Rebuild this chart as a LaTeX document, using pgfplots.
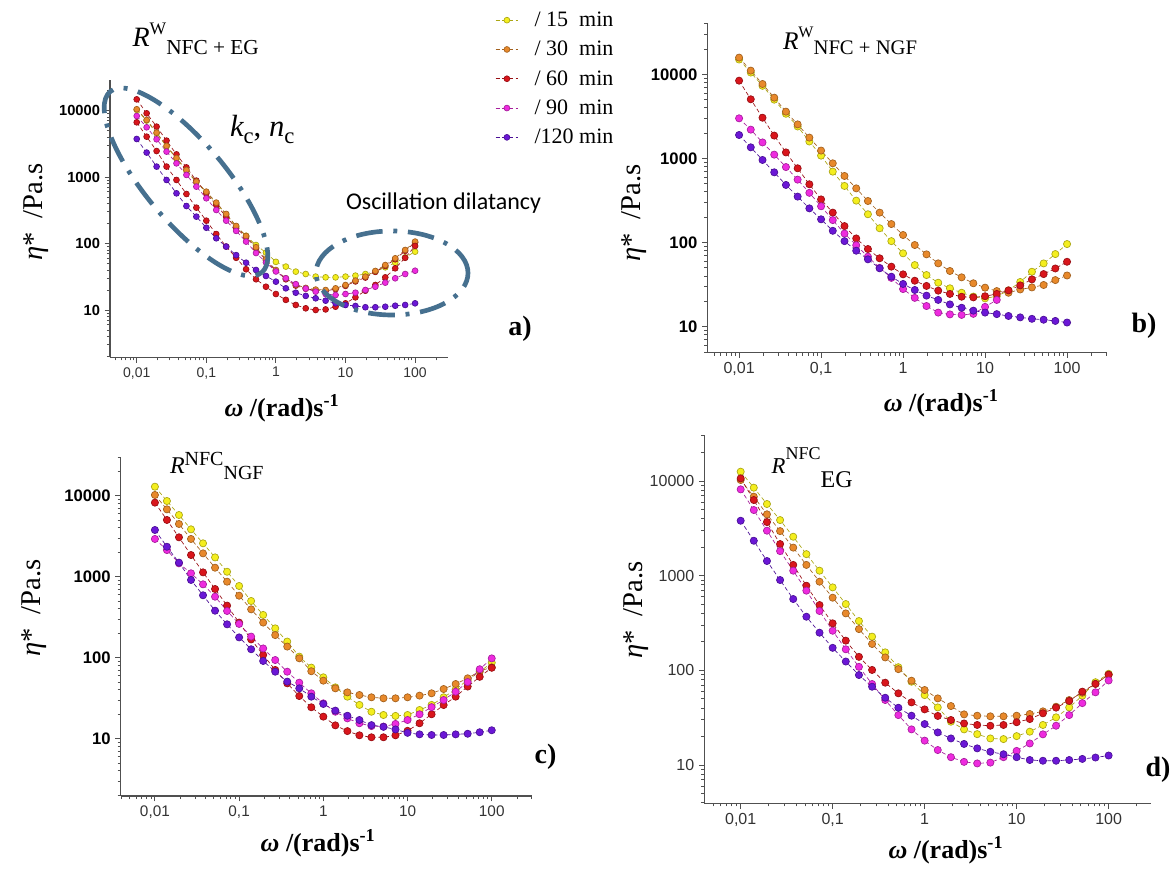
\documentclass[border=0pt]{standalone}
\usepackage{pgfplots}
\pgfplotsset{compat=1.18}
\usepackage{pgfplotstable}
\usepackage{fontspec}
\setmainfont{Liberation Serif}
\newfontfamily\arial{Liberation Sans}
\newfontfamily\calibri{Carlito}

\definecolor{c15}{HTML}{F4EE1E}
\definecolor{c30}{HTML}{E8892B}
\definecolor{c60}{HTML}{D9161C}
\definecolor{c90}{HTML}{EE2BDF}
\definecolor{c120}{HTML}{6B17D6}
\definecolor{axgray}{HTML}{505050}
\definecolor{ringblue}{HTML}{46708F}

% complex viscosity (Pa.s) against angular frequency (rad/s), 7 points per decade
\pgfplotstableread{
w       y15    y30    y60    y60b   y90    y120
0.01    10290  10500  6680   14800  8320   3750
0.01389 7100   7240   4060   9120   5620   2340
0.01931 4580   4670   2470   5750   3710   1440
0.02683 2890   2950   1440   3540   2420   906
0.03728 1900   1940   906    2200   1610   570
0.05179 1250   1280   557    1400   1080   367
0.07197 838    855    347    885    719    254
0.1     592    604    221    570    480    173
0.1389  405    413    139    381    320    120
0.1931  273    279    90     254    221    90
0.2683  180    184    61     170    155    67
0.3728  131    130    41     126    107    51.5
0.5179  95     88     29     85     72     40
0.7197  73     58     22.4   56     52     32.5
1       53     40     17.4   39     38     26.7
1.389   45     30     14.2   29     30     21.2
1.931   37.8   24     11.9   23.3   24.5   18.2
2.683   34.8   21.5   10.6   20.9   21     16.3
3.728   31.8   20.3   10     19.7   18.9   15
5.179   31     20     10.2   19.4   17.4   13.8
7.197   31     21.2   11.2   20.6   16.8   12.6
10      31.8   23.8   12.6   23.1   17.4   11.9
13.89   32.9   27.7   15.5   26.9   18.2   11.5
19.31   34.8   31.8   19.5   30.8   20     11
26.83   37.8   38.7   23.8   37.5   22.4   11
37.28   43.9   47.5   31     46     25.8   11.2
51.79   51.5   60     42.4   58     30     11.6
71.97   62     80     61     77.6   34.8   11.9
100     75.5   107    92     104    39     12.6
}\dataA

\pgfplotstableread{
w       y15    y30    y60    y90    y120
0.01    15000  15800  8410   3000   1900
0.01389 10500  11070  5050   2200   1356
0.01931 7300   7680   3050   1550   959
0.02683 5000   5280   1870   1110   684
0.03728 3400   3600   1180   790    484
0.05179 2400   2540   764    560    352
0.07197 1590   1770   493    390    255
0.1     1080   1240   326    270    189
0.1389  697    875    227    185    138
0.1931  471    619    157    128    104
0.2683  315    441    112    93     80
0.3728  217    312    83.8   68     63.2
0.5179  148    227    65     50     49.4
0.7197  104    166    51.7   38     39.3
1       74.5   123    41.9   28     32.2
1.389   54     93.5   35.2   22     27.3
1.931   41.1   72.4   30.5   17.6   23.4
2.683   33.3   56.6   26.8   14.7   20.8
3.728   28.6   45.9   24.5   14.0   18.4
5.179   25.3   38.6   22.7   13.8   16.8
7.197   22.8   32.8   22.3   14.2   15.5
10      21.7   29.1   23     17.2   14.7
13.89   23     26.5   24.5   20.8   14.1
19.31   27     25.3   27     nan    13.4
26.83   34     27.7   31     nan    12.9
37.28   45     29.3   36.5   nan    12.4
51.79   56.5   31.3   42.2   nan    12.1
71.97   73     35.8   49.2   nan    11.7
100     96     40.6   59.1   nan    11.2
}\dataB

\pgfplotstableread{
w       y15    y30    y60    y90    y120
0.01    12900  10200  8200   2920   3770
0.01389 8590   6780   5010   2130   2340
0.01931 5770   4470   3060   1460   1490
0.02683 3840   2920   1850   1100   910
0.03728 2580   1940   1130   804    589
0.05179 1730   1290   704    566    380
0.07197 1150   867    439    377    258
0.1     767    582    271    261    178
0.1389  501    395    168    182    127
0.1931  337    271    108    130    91
0.2683  230    190    70.5   93.5   67.1
0.3728  158    137    48.2   67.1   50.6
0.5179  103    98.2   33.6   49.1   41.8
0.7197  75.4   68     24.4   36.3   33
1       57.2   52     18.7   27.3   26.8
1.389   43     41.8   14.6   21.5   22.2
1.931   33     37.3   12.4   17.8   19.2
2.683   26.1   34.6   11.0   15.5   17
3.728   21.5   32.4   10.4   14.3   14.7
5.179   19.6   31.5   10.4   14.1   14.0
7.197   19.1   31.5   11.0   15.2   13.0
10      19.6   32.4   12.5   17     11.8
13.89   22.6   34     15.5   20     11.3
19.31   26.1   36.3   20     24.5   11.1
26.83   32.4   41     26     30     11.1
37.28   40.6   47.3   33     38     11.3
51.79   53     55.6   44     50     11.5
71.97   67.1   68.4   58     72     12.0
100     86.7   76     75     98     12.7
}\dataC

\pgfplotstableread{
w       y15    y30    y60    y90    y120
0.01    12560  10250  10670  8170   3810
0.01389 8510   6840   6300   4940   2340
0.01931 5720   4450   3690   2990   1430
0.02683 3870   2960   2160   1820   900
0.03728 2580   1980   1300   1130   567
0.05179 1690   1300   784    695    369
0.07197 1130   865    490    424    250
0.1     753    586    314    262    173
0.1389  502    400    206    167    124
0.1931  332    273    139    109    89.3
0.2683  227    190    101    71.8   67.2
0.3728  155    137    74.1   48.6   51.4
0.5179  108    103    57.2   33.7   40.3
0.7197  75.9   77.8   45.9   23.8   33.2
1       54.8   62     38.7   18.1   27.1
1.389   40.6   50.6   33     14.4   22.1
1.931   28.7   42     29.9   12.1   19.1
2.683   23.8   34.3   27.5   10.8   16.7
3.728   21.2   33.2   26.5   10.4   15
5.179   19.1   32.7   26     10.6   13.8
7.197   18.8   32.7   26.5   12.1   13
10      20.2   33.2   28.3   14.1   12.1
13.89   22.5   34.6   30.6   16.9   11.3
19.31   26.5   36.9   35.2   21.1   11.1
26.83   31.9   41.3   40.4   26     11.1
37.28   40.6   48.6   47.5   33.7   11.3
51.79   54     58     59.6   45.1   11.6
71.97   75     72     72     58.6   12.0
100     92     90     90     78.2   12.6
}\dataD

\tikzset{
  curve/.style={densely dashed, line width=0.5pt, draw=#1!70!black,
    mark=*, mark options={solid, draw=none, fill=#1}},
  lbl/.style={anchor=base west, inner sep=0pt, outer sep=0pt},
}
\pgfplotsset{
  legend image code/.code={\draw[mark repeat=2, mark phase=2, #1]
    plot coordinates {(0pt,0pt) (8.5pt,0pt) (17pt,0pt)};},
}

\begin{document}
\begin{tikzpicture}
\path[use as bounding box] (0pt,0pt) rectangle (881.25pt,652.5pt);

% a) R^W NFC+EG
\begin{axis}[
  scale only axis, xmode=log, ymode=log,
  axis lines*=left,
  axis line style={draw=axgray, line width=1.1pt},
  tick style={draw=axgray, line width=0.7pt},
  tick align=outside,
  major tick length=4pt, minor tick length=2.3pt,
  xtick={0.01,0.1,1,10,100},
  xticklabels={{0,01},{0,1},1,10,100},
  minor xtick={0.004,0.005,0.006,0.007,0.008,0.009,0.02,0.03,0.04,0.05,0.06,0.07,0.08,0.09,
    0.2,0.3,0.4,0.5,0.6,0.7,0.8,0.9,2,3,4,5,6,7,8,9,20,30,40,50,60,70,80,90,200},
  ytick={10,100,1000,10000},
  yticklabels={10,100,1000,10000},
  minor ytick={2,3,4,5,6,7,8,9,20,30,40,50,60,70,80,90,200,300,400,500,600,700,800,900,
    2000,3000,4000,5000,6000,7000,8000,9000,20000},
  xlabel={{\itshape ω} /(rad)s\textsuperscript{-1}},
  ylabel={{\itshape η}*\ \ /Pa.s},
  xlabel style={font=\bfseries\fontsize{19.5}{22}\selectfont, anchor=center,
    at={(axis description cs:0.509,-0.183)}},
  ylabel style={font=\fontsize{21.5}{24}\selectfont, anchor=center,
    at={(axis description cs:-0.219,0.524)}},
  at={(82.5pt,384.5pt)}, anchor=south west, width=253.5pt, height=208pt,
  xmin=0.00413, xmax=297, ymin=1.94, ymax=28970,
  xticklabel style={font=\arial\fontsize{10.5}{12}\selectfont, text=black!80},
  yticklabel style={font=\arial\bfseries\fontsize{11}{12}\selectfont},
  every axis plot/.append style={mark size=2.2pt},
  legend style={at={(axis description cs:1.139,1.256)}, anchor=north west,
    draw=none, fill=none, font=\fontsize{16.5}{16.5}\selectfont,
    inner sep=0pt, row sep=5.5pt, cells={anchor=west},
    /tikz/every odd column/.append style={column sep=10pt}},
]
\addplot[curve=c15] table[x=w,y=y15]{\dataA};
\addlegendentry{/ 15~~min}
\addplot[curve=c60, forget plot] table[x=w,y=y60b]{\dataA};
\addplot[curve=c30] table[x=w,y=y30]{\dataA};
\addlegendentry{/ 30~~min}
\addplot[curve=c60] table[x=w,y=y60]{\dataA};
\addlegendentry{/ 60~~min}
\addplot[curve=c90] table[x=w,y=y90]{\dataA};
\addlegendentry{/ 90~~min}
\addplot[curve=c120] table[x=w,y=y120]{\dataA};
\addlegendentry{/120 min}
\end{axis}

% b) R^W NFC+NGF
\begin{axis}[
  scale only axis, xmode=log, ymode=log,
  axis lines*=left,
  axis line style={draw=axgray, line width=1.1pt},
  tick style={draw=axgray, line width=0.7pt},
  tick align=outside,
  major tick length=4pt, minor tick length=2.3pt,
  unbounded coords=jump,
  xtick={0.01,0.1,1,10,100},
  xticklabels={{0,01},{0,1},1,10,100},
  minor xtick={0.004,0.005,0.006,0.007,0.008,0.009,0.02,0.03,0.04,0.05,0.06,0.07,0.08,0.09,
    0.2,0.3,0.4,0.5,0.6,0.7,0.8,0.9,2,3,4,5,6,7,8,9,20,30,40,50,60,70,80,90,200,300},
  ytick={10,100,1000,10000},
  yticklabels={10,100,1000,10000},
  minor ytick={5,6,7,8,9,20,30,40,50,60,70,80,90,200,300,400,500,600,700,800,900,
    2000,3000,4000,5000,6000,7000,8000,9000,20000,30000,40000},
  xlabel={{\itshape ω} /(rad)s\textsuperscript{-1}},
  ylabel={{\itshape η}*\ \ /Pa.s},
  xlabel style={font=\bfseries\fontsize{19.5}{22}\selectfont, anchor=center,
    at={(axis description cs:0.585,-0.153)}},
  ylabel style={font=\fontsize{21.5}{24}\selectfont, anchor=center,
    at={(axis description cs:-0.182,0.424)}},
  at={(530.5pt,388pt)}, anchor=south west, width=299.8pt, height=247pt,
  xmin=0.0041, xmax=307.6, ymin=4.91, ymax=40400,
  xticklabel style={font=\arial\fontsize{12}{14}\selectfont, text=black!80},
  yticklabel style={font=\arial\bfseries\fontsize{12.5}{14}\selectfont},
  every axis plot/.append style={mark size=2.7pt},
]
\addplot[curve=c15] table[x=w,y=y15]{\dataB};
\addplot[curve=c30] table[x=w,y=y30]{\dataB};
\addplot[curve=c60] table[x=w,y=y60]{\dataB};
\addplot[curve=c90] table[x=w,y=y90]{\dataB};
\addplot[curve=c120] table[x=w,y=y120]{\dataB};
\end{axis}

% c) R^NFC NGF
\begin{axis}[
  scale only axis, xmode=log, ymode=log,
  axis lines*=left,
  axis line style={draw=axgray, line width=1.1pt},
  tick style={draw=axgray, line width=0.7pt},
  tick align=outside,
  major tick length=4pt, minor tick length=2.3pt,
  xtick={0.01,0.1,1,10,100},
  xticklabels={{0,01},{0,1},1,10,100},
  minor xtick={0.004,0.005,0.006,0.007,0.008,0.009,0.02,0.03,0.04,0.05,0.06,0.07,0.08,0.09,
    0.2,0.3,0.4,0.5,0.6,0.7,0.8,0.9,2,3,4,5,6,7,8,9,20,30,40,50,60,70,80,90,200,300},
  ytick={10,100,1000,10000},
  yticklabels={10,100,1000,10000},
  minor ytick={2,3,4,5,6,7,8,9,20,30,40,50,60,70,80,90,200,300,400,500,600,700,800,900,
    2000,3000,4000,5000,6000,7000,8000,9000,20000,30000},
  xlabel={{\itshape ω} /(rad)s\textsuperscript{-1}},
  ylabel={{\itshape η}*\ \ /Pa.s},
  xlabel style={font=\bfseries\fontsize{19.5}{22}\selectfont, anchor=center,
    at={(axis description cs:0.48,-0.138)}},
  ylabel style={font=\fontsize{21.5}{24}\selectfont, anchor=center,
    at={(axis description cs:-0.211,0.554)}},
  at={(90.5pt,55.5pt)}, anchor=south west, width=308.5pt, height=254.5pt,
  xmin=0.00392, xmax=300.6, ymin=1.96, ymax=30300,
  xticklabel style={font=\arial\fontsize{11.5}{13}\selectfont, text=black!80},
  yticklabel style={font=\arial\bfseries\fontsize{12.5}{14}\selectfont},
  every axis plot/.append style={mark size=2.7pt},
]
\addplot[curve=c15] table[x=w,y=y15]{\dataC};
\addplot[curve=c30] table[x=w,y=y30]{\dataC};
\addplot[curve=c60] table[x=w,y=y60]{\dataC};
\addplot[curve=c90] table[x=w,y=y90]{\dataC};
\addplot[curve=c120] table[x=w,y=y120]{\dataC};
\end{axis}

% d) R^NFC EG
\begin{axis}[
  scale only axis, xmode=log, ymode=log,
  axis lines*=left,
  axis line style={draw=axgray, line width=1.1pt},
  tick style={draw=axgray, line width=0.7pt},
  tick align=outside,
  major tick length=4pt, minor tick length=2.3pt,
  xtick={0.01,0.1,1,10,100},
  xticklabels={{0,01},{0,1},1,10,100},
  minor xtick={0.004,0.005,0.006,0.007,0.008,0.009,0.02,0.03,0.04,0.05,0.06,0.07,0.08,0.09,
    0.2,0.3,0.4,0.5,0.6,0.7,0.8,0.9,2,3,4,5,6,7,8,9,20,30,40,50,60,70,80,90,200},
  ytick={10,100,1000,10000},
  yticklabels={10,100,1000,10000},
  minor ytick={4,5,6,7,8,9,20,30,40,50,60,70,80,90,200,300,400,500,600,700,800,900,
    2000,3000,4000,5000,6000,7000,8000,9000,20000,30000},
  xlabel={{\itshape ω} /(rad)s\textsuperscript{-1}},
  ylabel={{\itshape η}*\ \ /Pa.s},
  xlabel style={font=\bfseries\fontsize{19.5}{22}\selectfont, anchor=center,
    at={(axis description cs:0.541,-0.127)}},
  ylabel style={font=\fontsize{21.5}{24}\selectfont, anchor=center,
    at={(axis description cs:-0.153,0.525)}},
  at={(528.2pt,50pt)}, anchor=south west, width=335pt, height=276.2pt,
  xmin=0.00402, xmax=288.4, ymin=3.94, ymax=30600,
  xticklabel style={font=\arial\fontsize{12}{14}\selectfont, text=black!80},
  yticklabel style={font=\arial\fontsize{12}{14}\selectfont, text=black!80},
  every axis plot/.append style={mark size=2.7pt},
]
\addplot[curve=c15] table[x=w,y=y15]{\dataD};
\addplot[curve=c30] table[x=w,y=y30]{\dataD};
\addplot[curve=c60] table[x=w,y=y60]{\dataD};
\addplot[curve=c90] table[x=w,y=y90]{\dataD};
\addplot[curve=c120] table[x=w,y=y120]{\dataD};
\end{axis}

% panel titles
\node[lbl] at (99.4pt,617.5pt) {{\fontsize{21}{24}\selectfont\itshape R}%
  \raisebox{8.8pt}{\fontsize{13.2}{15}\selectfont W}%
  \raisebox{-5.7pt}{\fontsize{16}{18}\selectfont NFC + EG}};
\node[lbl] at (587.25pt,615pt) {{\fontsize{19}{22}\selectfont\itshape R}%
  \raisebox{9pt}{\fontsize{12}{14}\selectfont W}%
  \raisebox{-3.75pt}{\fontsize{15.5}{18}\selectfont NFC + NGF}};
\node[lbl] at (127.5pt,297.5pt) {{\fontsize{18}{21}\selectfont\itshape R}%
  \raisebox{6.2pt}{\fontsize{15}{17}\selectfont NFC}%
  \raisebox{-5pt}{\fontsize{15}{17}\selectfont NGF}};
\node[lbl] at (578.8pt,297.5pt) {{\fontsize{17}{20}\selectfont\itshape R}%
  \raisebox{10pt}{\fontsize{13.5}{16}\selectfont NFC}%
  \raisebox{-10.8pt}{\fontsize{18}{20}\selectfont EG}};

% panel letters
\node[font=\bfseries\fontsize{21}{24}\selectfont] at (390pt,405.75pt) {a)};
\node[font=\bfseries\fontsize{21}{24}\selectfont] at (858pt,408.2pt) {b)};
\node[font=\bfseries\fontsize{21}{24}\selectfont] at (409.1pt,84.75pt) {c)};
\node[font=\bfseries\fontsize{21}{24}\selectfont] at (868.5pt,75pt) {d)};

% regions marked in panel a
\draw[ringblue, line width=3.5pt, dash pattern=on 20pt off 8pt on 3pt off 8pt,
  rotate around={-50:(139.5pt,516pt)}] (139.5pt,516pt) ellipse (88.5pt and 30pt);
\draw[ringblue, line width=3.5pt, dash pattern=on 20pt off 8pt on 3pt off 8pt]
  (294pt,447.75pt) ellipse (57pt and 31.5pt);
\node[lbl] at (172.5pt,549.75pt) {\fontsize{23}{26}\selectfont
  {\itshape k}\raisebox{-5pt}{\fontsize{17}{20}\selectfont c},
  {\itshape n}\raisebox{-5pt}{\fontsize{17}{20}\selectfont c}};
\node[lbl, font=\calibri\fontsize{18}{21}\selectfont] at (259.5pt,495.4pt)
  {Oscillation dilatancy};
\end{tikzpicture}
\end{document}
